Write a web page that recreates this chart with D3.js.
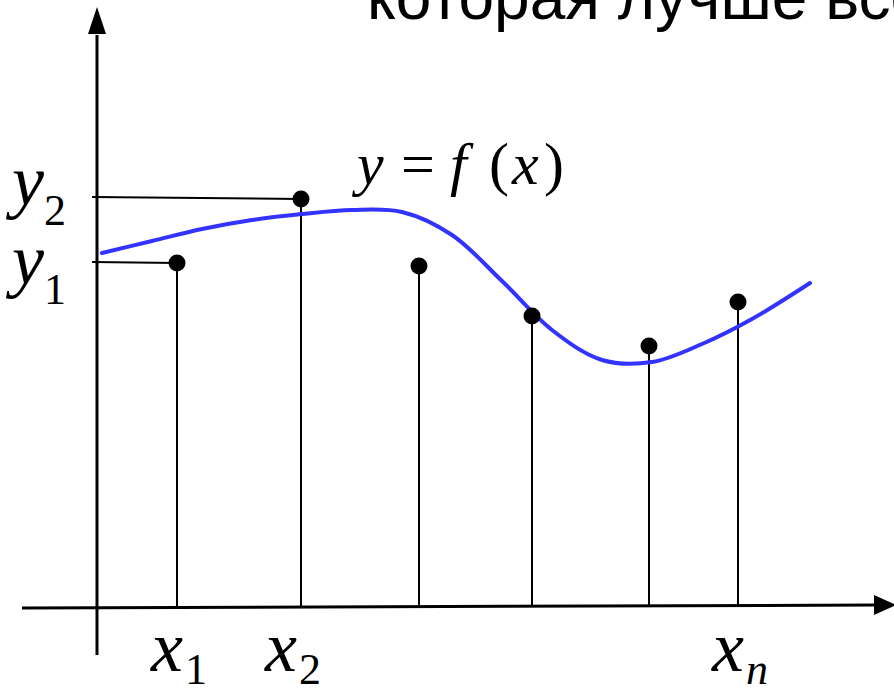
<!DOCTYPE html>
<html>
<head>
<meta charset="utf-8">
<script src="https://cdn.jsdelivr.net/npm/d3@7"></script>
<style>
  body { margin: 0; background: #fff; }
  svg { display: block; }
</style>
</head>
<body>
<div id="vis"></div>
<script>
// measured points (x along axis, y above axis)
var pointX = [80, 204, 322, 435, 552, 641];
var pointY = [344, 408, 341, 291, 261, 305];

// y = f(x) curve
var curveX = [5, 55, 105, 155, 205, 255, 305, 355, 405, 455, 505, 555, 605, 655, 713];
var curveY = [354, 366, 378, 387, 393, 397, 395, 372, 326, 277, 247, 245, 263, 288, 324];

var xLabels = [{name: "x", sub: "1", i: 0}, {name: "x", sub: "2", i: 1}, {name: "x", sub: "n", i: 5}];
var yLabels = [{name: "y", sub: "2", i: 1}, {name: "y", sub: "1", i: 0}];

// formula pieces with their left edges
var formula = [
  {t: "y", italic: true, x: 357},
  {t: "=", italic: false, x: 401},
  {t: "f", italic: true, x: 450},
  {t: "(", italic: false, x: 489},
  {t: "x", italic: true, x: 512},
  {t: ")", italic: false, x: 544}
];

var width = 894, height = 694;

var svg = d3.select("#vis").append("svg")
    .attr("width", width)
    .attr("height", height);

var x = d3.scaleLinear().domain([0, 800]).range([97, 897]);
var y = d3.scaleLinear().domain([0, 600]).range([607, 7]);

var serif = "'Liberation Serif', 'Times New Roman', serif";

// title text, cut off by the top edge
svg.append("text")
    .attr("x", 367)
    .attr("y", 19)
    .style("font-family", "'Liberation Sans', Arial, sans-serif")
    .style("font-size", "64px")
    .text("которая лучше всего");

// axes
svg.append("line")
    .attr("x1", x(-75)).attr("y1", y(-1))
    .attr("x2", x(780)).attr("y2", y(2))
    .attr("stroke", "#000").attr("stroke-width", 3);

svg.append("path")
    .attr("d", "M" + x(799) + "," + y(2) + "L" + x(777) + "," + (y(2) - 10) + "L" + x(777) + "," + (y(2) + 10) + "Z")
    .attr("fill", "#000");

svg.append("line")
    .attr("x1", x(0)).attr("y1", y(-48))
    .attr("x2", x(0)).attr("y2", y(572))
    .attr("stroke", "#000").attr("stroke-width", 3);

svg.append("path")
    .attr("d", "M" + x(0) + "," + y(600) + "L" + (x(0) - 9) + "," + y(573) + "L" + (x(0) + 9) + "," + y(573) + "Z")
    .attr("fill", "#000");

// stems
svg.selectAll(".stem")
    .data(pointX)
    .enter().append("line")
    .attr("class", "stem")
    .attr("x1", function(d) { return x(d); })
    .attr("x2", function(d) { return x(d); })
    .attr("y1", function(d, i) { return y(pointY[i]); })
    .attr("y2", y(1))
    .attr("stroke", "#000").attr("stroke-width", 2);

// horizontal guides to y1, y2
svg.selectAll(".guide")
    .data(yLabels)
    .enter().append("line")
    .attr("class", "guide")
    .attr("x1", x(-5))
    .attr("y1", function(d) { return y(pointY[d.i]) - (d.i == 1 ? 2 : 1); })
    .attr("x2", function(d) { return x(pointX[d.i]); })
    .attr("y2", function(d) { return y(pointY[d.i]); })
    .attr("stroke", "#000").attr("stroke-width", 2);

// curve
var line = d3.line()
    .x(function(d) { return x(d[0]); })
    .y(function(d) { return y(d[1]); })
    .curve(d3.curveCatmullRom);

svg.append("path")
    .datum(d3.zip(curveX, curveY))
    .attr("d", line)
    .attr("fill", "none")
    .attr("stroke", "#3333ff")
    .attr("stroke-width", 4)
    .attr("stroke-linecap", "round");

// points
svg.selectAll(".dot")
    .data(pointX)
    .enter().append("circle")
    .attr("class", "dot")
    .attr("cx", function(d) { return x(d); })
    .attr("cy", function(d, i) { return y(pointY[i]); })
    .attr("r", 8.5)
    .attr("fill", "#000");

// x labels
var xl = svg.selectAll(".xlab")
    .data(xLabels)
    .enter().append("text")
    .attr("class", "xlab")
    .attr("x", function(d) { return x(pointX[d.i]) - (d.i == 1 ? 36 : 26); })
    .attr("y", 671)
    .style("font-family", serif)
    .style("font-size", "72px");
xl.append("tspan").style("font-style", "italic").text(function(d) { return d.name; });
xl.append("tspan")
    .attr("dx", 2)
    .attr("dy", 13)
    .style("font-size", "44px")
    .style("font-style", function(d) { return d.sub == "n" ? "italic" : "normal"; })
    .text(function(d) { return d.sub; });

// y labels
var yl = svg.selectAll(".ylab")
    .data(yLabels)
    .enter().append("text")
    .attr("class", "ylab")
    .attr("x", 12)
    .attr("y", function(d) { return d.i == 1 ? 205 : 284; })
    .style("font-family", serif)
    .style("font-size", "72px");
yl.append("tspan").style("font-style", "italic").text(function(d) { return d.name; });
yl.append("tspan")
    .attr("dx", 0)
    .attr("dy", 20)
    .style("font-size", "44px")
    .text(function(d) { return d.sub; });

// formula
svg.selectAll(".formula")
    .data(formula)
    .enter().append("text")
    .attr("class", "formula")
    .attr("x", function(d) { return d.x; })
    .attr("y", 184)
    .style("font-family", serif)
    .style("font-size", "60px")
    .style("font-style", function(d) { return d.italic ? "italic" : "normal"; })
    .text(function(d) { return d.t; });
</script>
</body>
</html>
